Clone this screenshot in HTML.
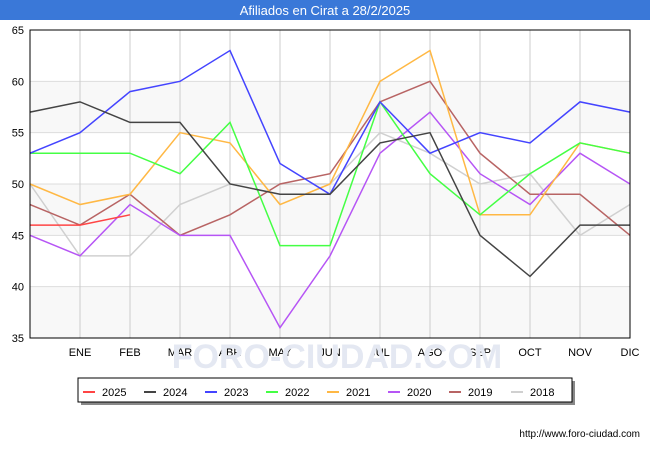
<!DOCTYPE html>
<html><head><meta charset="utf-8"><style>
body{margin:0;background:#fff;font-family:"Liberation Sans",sans-serif}
</style></head><body>
<svg width="650" height="450" xmlns="http://www.w3.org/2000/svg" font-family="Liberation Sans, sans-serif">
<rect x="0" y="0" width="650" height="20" fill="#3a78d8"/>
<text x="325" y="15" text-anchor="middle" fill="#fff" font-size="13">Afiliados en Cirat a 28/2/2025</text>
<g id="plot"></g>
<text x="337" y="368" text-anchor="middle" font-size="34" fill="#e4e8f2" font-weight="bold">FORO-CIUDAD.COM</text>
<g id="legend"></g>
<text x="640" y="437" text-anchor="end" font-size="10" fill="#000">http://www.foro-ciudad.com</text>
</svg>
<script>
const months=["","ENE","FEB","MAR","ABR","MAY","JUN","JUL","AGO","SEP","OCT","NOV","DIC"];
const yTicks=[35,40,45,50,55,60,65];
const seriesNames=["2025","2024","2023","2022","2021","2020","2019","2018"];
const seriesColors=["#ff4444","#444444","#4444ff","#44ff44","#ffb844","#b655f5","#b86464","#d0d0d0"];
const s2025=[46,46,47];
const s2024=[57,58,56,56,50,49,49,54,55,45,41,46,46];
const s2023=[53,55,59,60,63,52,49,58,53,55,54,58,57];
const s2022=[53,53,53,51,56,44,44,58,51,47,51,54,53];
const s2021=[50,48,49,55,54,48,50,60,63,47,47,54,53];
const s2020=[45,43,48,45,45,36,43,53,57,51,48,53,50];
const s2019=[48,46,49,45,47,50,51,58,60,53,49,49,45];
const s2018=[50,43,43,48,50,50,50,55,53,50,51,45,48];
const allSeries=[s2025,s2024,s2023,s2022,s2021,s2020,s2019,s2018];
const NS="http://www.w3.org/2000/svg";
const X0=30,X1=630,Y0=338,Y1=30;
const xs=i=>X0+i*(X1-X0)/12;
const ys=v=>Y0-(v-35)*(Y0-Y1)/30;
function mk(t,a,p){const e=document.createElementNS(NS,t);for(const k in a)e.setAttribute(k,a[k]);p.appendChild(e);return e;}
const plot=document.getElementById('plot');
for(let i=0;i<yTicks.length-1;i++){
  if(i%2===0){const r=mk('rect',{x:X0,y:ys(yTicks[i+1]),width:X1-X0,height:ys(yTicks[i])-ys(yTicks[i+1]),fill:'#f8f8f8'},plot);
  
  }
}
yTicks.forEach(v=>{
  const l=mk('line',{x1:X0,x2:X1,y1:ys(v),y2:ys(v),stroke:'#dddddd'},plot);
  
  
  const t=mk('text',{x:X0-6,y:ys(v)+4,'text-anchor':'end','font-size':11},plot);t.textContent=v;
  
  
});
months.forEach((m,i)=>{
  if(i>0&&i<12){const l=mk('line',{x1:xs(i),x2:xs(i),y1:Y1,y2:Y0,stroke:'#cccccc'},plot);
  
  }
  if(m){const t=mk('text',{x:xs(i),y:356,'text-anchor':'middle','font-size':11},plot);t.textContent=m;
  
  }
});
for(let k=allSeries.length-1;k>=0;k--){
  const d=allSeries[k].map((v,i)=>xs(i)+','+ys(v)).join(' ');
  const p=mk('polyline',{points:d,fill:'none',stroke:seriesColors[k],'stroke-width':1.5},plot);
  
  
}
const fr=mk('rect',{x:X0,y:Y1,width:X1-X0,height:Y0-Y1,fill:'none',stroke:'#000'},plot);


const lg=document.getElementById('legend');
mk('rect',{x:81,y:381,width:494,height:24,fill:'#888'},lg);
const lb=mk('rect',{x:78,y:378,width:494,height:24,fill:'#fff',stroke:'#000'},lg);


const lx=[83,144,205,266,327,388,449,511];
seriesNames.forEach((n,k)=>{
  const g=mk('g',{},lg);
  
  
  mk('line',{x1:lx[k],x2:lx[k]+12,y1:392,y2:392,stroke:seriesColors[k],'stroke-width':2},g);
  const t=mk('text',{x:lx[k]+19,y:396,'font-size':11},g);t.textContent=n;
});
</script>
</body></html>
